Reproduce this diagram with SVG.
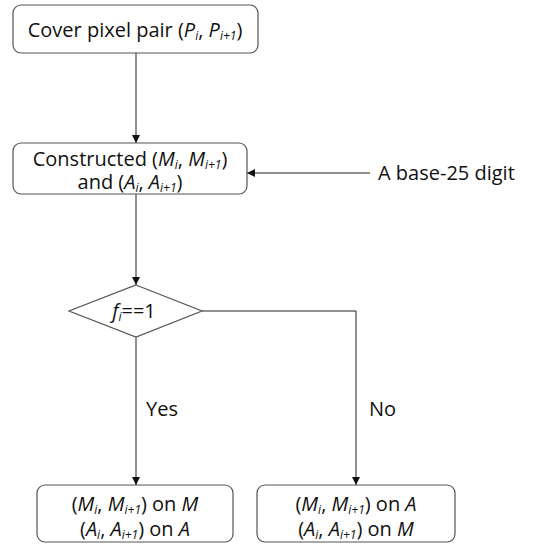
<svg xmlns="http://www.w3.org/2000/svg" width="546" height="544" viewBox="0 0 546 544">
<defs>
<style>
.box{fill:#fff;stroke:#555;stroke-width:1.2}
.ln{fill:none;stroke:#222;stroke-width:1}
text{font-family:"Open Sans","Liberation Sans",sans-serif;font-size:20px;fill:#111}
.c{text-anchor:middle}
.i{font-style:italic}
.s{font-size:12px;font-style:italic}
</style>
<marker id="ah" viewBox="0 0 10 10" refX="10" refY="5" markerWidth="8" markerHeight="8" markerUnits="userSpaceOnUse" orient="auto">
<path d="M0,0 L10,5 L0,10 z" fill="#111"/>
</marker>
</defs>
<rect width="546" height="544" fill="#fff"/>
<g id="connectors">
<line class="ln" x1="136" y1="53" x2="136" y2="143" marker-end="url(#ah)"/>
<line class="ln" x1="370" y1="173" x2="247" y2="173" marker-end="url(#ah)"/>
<line class="ln" x1="136" y1="194" x2="136" y2="285" marker-end="url(#ah)"/>
<line class="ln" x1="136" y1="337" x2="136" y2="485" marker-end="url(#ah)"/>
<polyline class="ln" points="202,311 356,311 356,485" marker-end="url(#ah)"/>
<text x="146" y="416">Yes</text>
<text x="369" y="416">No</text>
</g>
<g id="n1">
<rect class="box" x="13" y="5" width="245" height="48" rx="8"/>
<text class="c" x="135" y="37">Cover pixel pair (<tspan class="i">P</tspan><tspan class="s" dy="3">i</tspan><tspan dy="-3">, </tspan><tspan class="i">P</tspan><tspan class="s" dy="3">i+1</tspan><tspan dy="-3">)</tspan></text>
</g>
<g id="n2">
<rect class="box" x="13" y="143" width="234" height="51" rx="8"/>
<text class="c" x="130" y="166">Constructed (<tspan class="i">M</tspan><tspan class="s" dy="3">i</tspan><tspan dy="-3">, </tspan><tspan class="i">M</tspan><tspan class="s" dy="3">i+1</tspan><tspan dy="-3">)</tspan></text>
<text class="c" x="130" y="189">and (<tspan class="i">A</tspan><tspan class="s" dy="3">i</tspan><tspan dy="-3">, </tspan><tspan class="i">A</tspan><tspan class="s" dy="3">i+1</tspan><tspan dy="-3">)</tspan></text>
</g>
<g id="src">
<text x="378" y="180">A base-25 digit</text>
</g>
<g id="d1">
<polygon class="box" points="136,285 202,311 136,337 69,311"/>
<text class="c" x="134" y="318"><tspan class="i">f</tspan><tspan class="s" dy="3">i</tspan><tspan dy="-3">==1</tspan></text>
</g>
<g id="n3">
<rect class="box" x="37" y="485" width="196" height="57" rx="8"/>
<text class="c" x="135" y="511">(<tspan class="i">M</tspan><tspan class="s" dy="3">i</tspan><tspan dy="-3">, </tspan><tspan class="i">M</tspan><tspan class="s" dy="3">i+1</tspan><tspan dy="-3">) on </tspan><tspan class="i">M</tspan></text>
<text class="c" x="135" y="536">(<tspan class="i">A</tspan><tspan class="s" dy="3">i</tspan><tspan dy="-3">, </tspan><tspan class="i">A</tspan><tspan class="s" dy="3">i+1</tspan><tspan dy="-3">) on </tspan><tspan class="i">A</tspan></text>
</g>
<g id="n4">
<rect class="box" x="257" y="485" width="198" height="57" rx="8"/>
<text class="c" x="356" y="511">(<tspan class="i">M</tspan><tspan class="s" dy="3">i</tspan><tspan dy="-3">, </tspan><tspan class="i">M</tspan><tspan class="s" dy="3">i+1</tspan><tspan dy="-3">) on </tspan><tspan class="i">A</tspan></text>
<text class="c" x="356" y="536">(<tspan class="i">A</tspan><tspan class="s" dy="3">i</tspan><tspan dy="-3">, </tspan><tspan class="i">A</tspan><tspan class="s" dy="3">i+1</tspan><tspan dy="-3">) on </tspan><tspan class="i">M</tspan></text>
</g>
</svg>
